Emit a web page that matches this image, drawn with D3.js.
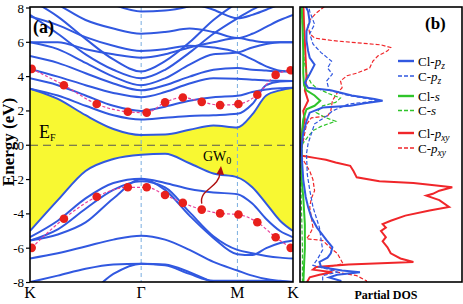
<!DOCTYPE html>
<html>
<head>
<meta charset="utf-8">
<script src="https://cdn.jsdelivr.net/npm/d3@7"></script>
<style>
  body { margin: 0; background: #fff; }
  svg { display: block; font-family: "Liberation Serif", "DejaVu Serif", serif; }
</style>
</head>
<body>
<svg width="463" height="304"></svg>
<script>
// k-path: K -> Gamma -> M -> K (path length units)
const kLabels = ['K', '\u0393', 'M', 'K'];
const kTicks = [0, 2, 3.732, 4.732];
const kPts = [0, 0.5, 1.0, 1.5, 2.0, 2.43, 2.87, 3.3, 3.732, 4.0, 4.25, 4.5, 4.732];
const yTicks = [8, 6, 4, 2, 0, -2, -4, -6, -8];

// conduction bands (eV at kPts)
const cbm = [3.3, 2.7, 1.75, 0.95, 0.6, 0.62, 0.9, 1.15, 1.04, 1.8, 2.9, 3.2, 3.35];
const cBands = [
  [3.3, 2.9, 2.3, 1.75, 1.5, 1.6, 1.7, 1.75, 1.83, 2.4, 3.5, 3.72, 3.75],
  [3.9, 3.5, 2.9, 2.3, 2.0, 2.25, 2.6, 2.8, 2.88, 3.1, 3.25, 3.32, 3.35],
  [4.45, 4.0, 3.5, 3.05, 2.8, 3.1, 3.6, 3.9, 3.87, 3.82, 3.78, 3.76, 3.75],
  [5.2, 4.8, 4.2, 3.6, 3.2, 3.5, 4.0, 4.4, 4.5, 4.4, 4.35, 4.3, 4.3],
  [6.0, 5.6, 4.8, 4.0, 3.5, 3.9, 4.7, 5.3, 5.4, 5.7, 5.9, 6.0, 6.0],
  [7.6, 6.5, 5.3, 4.4, 3.9, 4.4, 5.4, 6.5, 7.4, 7.9, 8.3, 8.6, 8.7],
  [8.5, 7.5, 6.2, 5.0, 4.3, 4.9, 6.0, 7.3, 8.3, 8.8, 9.2, 9.5, 9.6],
  [6.0, 6.0, 5.6, 5.3, 5.1, 5.3, 5.7, 6.0, 6.25, 6.1, 6.0, 6.0, 6.0],
  [7.5, 7.0, 6.3, 5.8, 5.5, 5.6, 5.8, 5.7, 5.4, 5.0, 4.6, 4.35, 4.3],
  [9.0, 8.2, 7.3, 6.8, 6.5, 6.6, 6.8, 6.6, 6.25, 6.5, 6.9, 7.3, 7.6],
  [10.5, 9.8, 9.0, 8.2, 7.8, 7.85, 8.1, 8.5, 8.9, 9.2, 9.5, 9.7, 9.8],
  [10, 9.6, 9.2, 8.8, 8.6, 8.5, 8.3, 7.9, 7.4, 7.6, 7.9, 8.2, 8.3]
];

// valence bands
const vbm = [-5.0, -3.2, -1.5, -0.8, -0.55, -0.5, -1.05, -1.65, -1.87, -2.45, -3.4, -4.4, -5.0];
const vBands = [
  [-5.36, -4.4, -3.1, -2.2, -1.95, -2.2, -2.55, -2.75, -2.85, -3.4, -4.3, -5.0, -5.36],
  [-5.55, -4.9, -3.7, -2.6, -2.1, -2.45, -3.9, -5.3, -6.1, -6.3, -6.45, -6.55, -6.6],
  [-5.55, -5.2, -4.5, -3.1, -1.98, -2.6, -4.1, -5.4, -6.35, -6.4, -6.0, -5.7, -5.55],
  [-6.6, -6.3, -5.9, -5.5, -5.27, -5.5, -6.1, -6.8, -7.3, -7.6, -7.8, -7.9, -7.98],
  [-7.98, -7.6, -7.2, -6.95, -6.9, -6.95, -7.4, -8.0, -8.5, -8.7, -8.8, -8.9, -9.0],
  [-9.5, -9.3, -8.8, -7.5, -6.9, -7.0, -7.5, -7.9, -7.9, -7.9, -7.9, -7.92, -7.95]
];

// GW0 quasiparticle points
const gwK = [0.03, 0.61, 1.2, 1.76, 2.1, 2.43, 2.75, 3.09, 3.42, 3.75, 4.09, 4.42, 4.69];
const gwCond = [4.45, 3.5, 2.4, 1.95, 1.9, 2.5, 2.78, 2.53, 2.34, 2.4, 2.94, 4.1, 4.37];
const gwVal = [-5.98, -4.28, -3.0, -2.45, -2.45, -2.9, -3.36, -3.75, -3.97, -4.04, -4.49, -5.36, -5.98];

// partial DOS, [energy, dos]
const clPz = [[8.3,0.25],[7.8,0.5],[7.2,0.6],[6.65,0.4],[6.1,0.4],[5.5,0.5],[5.1,0.6],[4.7,0.9],[4.15,0.6],[3.65,0.3],[3.35,0.5],[3.2,1.9],[2.9,3.2],[2.7,4.6],[2.6,5.1],[2.45,4.0],[2.3,3.1],[2.2,1.4],[1.9,0.6],[1.4,0.4],[0.7,0.2],[0,0.1],[-0.5,0.1],[-2.0,0.2],[-3.0,0.35],[-3.6,0.5],[-4.2,0.7],[-4.8,1.05],[-5.55,1.65],[-5.95,2.0],[-6.3,1.9],[-6.55,1.7],[-6.8,1.2],[-7.1,1.3],[-7.3,2.6],[-7.4,3.7],[-7.55,2.3],[-7.7,1.8],[-7.9,2.5],[-8.2,2.5]];
const cPz = [[8.3,0.5],[7.8,0.6],[7.05,0.9],[6.5,0.6],[5.9,0.8],[5.4,1.3],[4.9,1.95],[4.5,1.7],[4.15,2.0],[3.75,1.65],[3.2,1.8],[2.9,3.0],[2.6,4.9],[2.4,3.0],[2.0,2.0],[1.7,1.65],[1.25,0.9],[0.67,0.7],[0.1,0.5],[-0.5,0.4],[-1.7,0.45],[-2.6,0.6],[-3.6,0.8],[-4.8,1.2],[-5.5,1.3],[-6.1,1.4],[-6.6,1.1],[-7.0,0.8],[-7.2,1.6],[-7.4,2.3],[-7.6,1.4],[-7.9,1.4],[-8.2,1.5]];
const clS = [[8.3,0.1],[7,0.15],[5.5,0.2],[4.2,0.2],[3.5,0.25],[3.2,0.4],[2.9,0.9],[2.6,1.25],[2.3,0.9],[2.1,0.4],[1.5,0.2],[1.0,0.15],[0,0.1],[-2,0.1],[-3,0.2],[-4.6,0.3],[-6,0.3],[-7,0.25],[-8.2,0.2]];
const cS = [[8.3,0.1],[6,0.2],[5,0.25],[4.15,0.4],[3.6,0.7],[3.35,1.0],[3.0,1.8],[2.75,2.5],[2.5,2.2],[2.3,1.4],[1.9,1.0],[1.6,1.6],[1.4,2.2],[1.1,1.3],[0.85,0.8],[0.45,0.45],[0,0.1],[-2,0.05],[-4,0.1],[-6,0.15],[-8.2,0.15]];
const clPxy = [[8.4,0.2],[7,0.25],[6,0.3],[5,0.35],[4,0.4],[3.2,0.3],[2.6,0.5],[2.0,0.2],[1.5,0.3],[0.7,0.1],[0,0.05],[-0.6,0.05],[-0.75,1.0],[-0.85,1.6],[-1.0,2.2],[-1.2,3.1],[-1.5,3.3],[-1.87,3.5],[-2.1,4.9],[-2.2,7.0],[-2.3,8.0],[-2.45,9.4],[-2.65,8.6],[-2.83,8.2],[-2.94,7.8],[-3.2,8.6],[-3.6,9.2],[-3.8,8.0],[-4.1,6.5],[-4.4,5.6],[-4.6,5.1],[-4.8,5.3],[-5.0,5.0],[-5.36,5.3],[-5.6,5.1],[-5.95,5.4],[-6.3,5.6],[-6.6,6.2],[-6.8,7.0],[-6.95,3.0],[-7.1,1.0],[-7.25,0.8],[-7.4,2.0],[-7.55,1.2],[-7.7,0.6],[-8.2,0.3]];
const cPxy = [[8.3,1.8],[8.0,1.4],[7.7,1.0],[7.3,0.6],[7.0,0.5],[6.5,0.6],[6.25,0.9],[6.1,2.0],[5.95,3.8],[5.85,5.0],[5.7,5.6],[5.5,5.4],[5.2,4.8],[4.9,4.5],[4.5,4.3],[4.2,3.5],[4.05,2.9],[3.75,2.5],[3.35,2.6],[3.05,2.3],[2.6,2.0],[2.0,1.9],[1.7,1.7],[1.6,0.7],[1.2,0.4],[0.5,0.25],[0,0.15],[-0.7,0.1],[-1.5,0.6],[-2.0,0.8],[-2.65,0.9],[-3.1,0.7],[-3.6,0.6],[-4.2,0.7],[-4.8,0.8],[-5.2,0.6],[-5.45,0.4],[-5.55,1.4],[-6.0,1.9],[-6.3,2.3],[-6.9,2.65],[-7.1,1.7],[-7.4,2.3],[-7.6,3.5],[-7.9,4.1],[-8.2,4.2]];

const blue = '#3158e0', green = '#2fc42a', red = '#f0262a';
const dosSeries = [
  {name: 'Cl-', sub: 'z', data: clPz, color: blue, dash: null, ly: 61},
  {name: 'C-', sub: 'z', data: cPz, color: blue, dash: '4,2', ly: 76},
  {name: 'Cl-', s: true, data: clS, color: green, dash: null, ly: 96},
  {name: 'C-', s: true, data: cS, color: green, dash: '4,2', ly: 110.5},
  {name: 'Cl-', sub: 'xy', data: clPxy, color: red, dash: null, ly: 133},
  {name: 'C-', sub: 'xy', data: cPxy, color: red, dash: '4,2', ly: 148}
];

const svg = d3.select('svg');
const x = d3.scaleLinear().domain([0, 4.732]).range([30, 293]);
const y = d3.scaleLinear().domain([-8, 8]).range([282.5, 8]);
const xd = d3.scaleLinear().domain([0, 10]).range([300, 462]);

const defs = svg.append('defs');
defs.append('clipPath').attr('id', 'clipA').append('rect')
  .attr('x', 30).attr('y', 7).attr('width', 263).attr('height', 275);
defs.append('clipPath').attr('id', 'clipB').append('rect')
  .attr('x', 300).attr('y', 7).attr('width', 162).attr('height', 275);

const gA = svg.append('g').attr('clip-path', 'url(#clipA)');

// gap region
const area = d3.area()
  .x((d, i) => x(kPts[i]))
  .y0((d, i) => y(vbm[i]))
  .y1((d, i) => y(cbm[i]))
  .curve(d3.curveMonotoneX);
gA.append('path').attr('d', area(kPts)).attr('fill', '#f8f832');

// Fermi level
gA.append('line')
  .attr('x1', 30).attr('x2', 293).attr('y1', y(0)).attr('y2', y(0))
  .attr('stroke', '#555').attr('stroke-width', 1.2).attr('stroke-dasharray', '8,5');

// high-symmetry lines
gA.selectAll('.hs').data([kTicks[1], kTicks[2]]).join('line')
  .attr('x1', d => x(d)).attr('x2', d => x(d)).attr('y1', 7).attr('y2', 282)
  .attr('stroke', '#7aaee0').attr('stroke-width', 1).attr('stroke-dasharray', '4,3');

const bandLine = d3.line()
  .x((d, i) => x(kPts[i]))
  .y(d => y(d))
  .curve(d3.curveMonotoneX);

gA.selectAll('.band')
  .data([cbm, vbm].concat(cBands, vBands)).join('path')
  .attr('d', bandLine)
  .attr('fill', 'none').attr('stroke', blue).attr('stroke-width', 2);

// GW0 points
const gwLine = d3.line().x((d, i) => x(gwK[i])).y(d => y(d)).curve(d3.curveMonotoneX);
[gwCond, gwVal].forEach(s => {
  gA.append('path').attr('d', gwLine(s))
    .attr('fill', 'none').attr('stroke', '#e8409a').attr('stroke-width', 1.2)
    .attr('stroke-dasharray', '3,2');
  gA.selectAll(null).data(s).join('circle')
    .attr('cx', (d, i) => x(gwK[i])).attr('cy', d => y(d)).attr('r', 4.3)
    .attr('fill', '#e8201c');
});

// GW0 arrow
svg.append('path')
  .attr('d', `M${x(3.09)},${y(-3.75) - 6} C199,189 219,188 220,173`)
  .attr('fill', 'none').attr('stroke', '#b01010').attr('stroke-width', 1.4);
svg.append('path').attr('d', 'M216.5,174 L221,166 L224,175 Z').attr('fill', '#b01010');
const gw = svg.append('text').attr('x', 203).attr('y', 161).attr('font-size', 14);
gw.append('tspan').text('GW');
gw.append('tspan').attr('font-size', 10).attr('dy', 3).text('0');

// E_F label
const ef = svg.append('text').attr('x', 39).attr('y', 138).attr('font-size', 18);
ef.append('tspan').text('E');
ef.append('tspan').attr('font-size', 10).attr('dy', 3).text('F');

// frame and axis
svg.append('rect').attr('x', 30).attr('y', 7).attr('width', 263).attr('height', 275)
  .attr('fill', 'none').attr('stroke', '#000').attr('stroke-width', 1.6);
svg.selectAll('.yt').data(yTicks).join('line')
  .attr('x1', 26).attr('x2', 30).attr('y1', d => y(d)).attr('y2', d => y(d))
  .attr('stroke', '#000').attr('stroke-width', 1.2);
svg.selectAll('.yl').data(yTicks).join('text')
  .attr('x', 24).attr('y', d => y(d) + 4.5).attr('text-anchor', 'end')
  .attr('font-size', 13).text(d => d);
svg.selectAll('.xl').data(kTicks).join('text')
  .attr('x', d => x(d)).attr('y', 298).attr('text-anchor', 'middle')
  .attr('font-size', 16).text((d, i) => kLabels[i]);

svg.append('text').attr('transform', 'translate(14,142) rotate(-90)')
  .attr('text-anchor', 'middle').attr('font-size', 17).attr('font-weight', 'bold')
  .text('Energy (eV)');
svg.append('text').attr('x', 33).attr('y', 33).attr('font-size', 18)
  .attr('font-weight', 'bold').text('(a)');

// panel b: partial DOS
const gB = svg.append('g').attr('clip-path', 'url(#clipB)');
const dosLine = d3.line().x(d => xd(d[1])).y(d => y(d[0]));
dosSeries.slice().reverse().forEach(s => {
  gB.append('path').attr('d', dosLine(s.data))
    .attr('fill', 'none').attr('stroke', s.color)
    .attr('stroke-width', s.dash ? 1.2 : 2)
    .attr('stroke-dasharray', s.dash);
});

svg.append('rect').attr('x', 300).attr('y', 7).attr('width', 162).attr('height', 275)
  .attr('fill', 'none').attr('stroke', '#000').attr('stroke-width', 1.6);
svg.append('text').attr('x', 425).attr('y', 29).attr('font-size', 17)
  .attr('font-weight', 'bold').text('(b)');

// legend
dosSeries.forEach(s => {
  svg.append('line').attr('x1', 398).attr('x2', 414).attr('y1', s.ly).attr('y2', s.ly)
    .attr('stroke', s.color).attr('stroke-width', s.dash ? 1.6 : 2.4)
    .attr('stroke-dasharray', s.dash);
  const t = svg.append('text').attr('x', 418).attr('y', s.ly + 4.5).attr('font-size', 13);
  t.append('tspan').text(s.name);
  if (s.s) {
    t.append('tspan').attr('font-style', 'italic').text('s');
  } else {
    t.append('tspan').attr('font-style', 'italic').text('p');
    t.append('tspan').attr('font-style', 'italic').attr('font-size', 9.5).attr('dy', 3).text(s.sub);
  }
});

svg.append('text').attr('x', 386).attr('y', 299).attr('text-anchor', 'middle')
  .attr('font-size', 12).attr('font-weight', 'bold').text('Partial DOS');
</script>
</body>
</html>
